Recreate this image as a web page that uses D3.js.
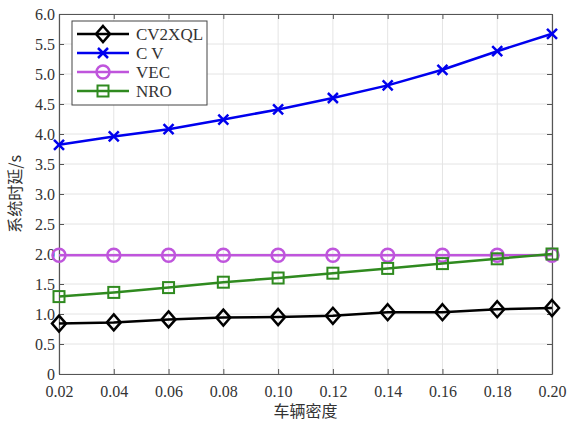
<!DOCTYPE html>
<html>
<head>
<meta charset="utf-8">
<script src="https://cdn.jsdelivr.net/npm/d3@7"></script>
<style>
  body { margin: 0; background: #fff; }
  svg text { font-family: "Liberation Serif", "Times New Roman", serif; fill: #333; }
  svg text.cjk { font-family: "Noto Sans CJK SC", sans-serif; }
</style>
</head>
<body>
<div id="chart"></div>
<script>
// x values (vehicle density)
var density = [0.02, 0.04, 0.06, 0.08, 0.10, 0.12, 0.14, 0.16, 0.18, 0.20];
var cv2xql = [0.84, 0.86, 0.91, 0.94, 0.95, 0.97, 1.03, 1.03, 1.08, 1.10];
var cv     = [3.82, 3.96, 4.08, 4.24, 4.41, 4.60, 4.81, 5.07, 5.38, 5.67];
var vec    = [1.98, 1.98, 1.98, 1.98, 1.98, 1.98, 1.98, 1.98, 1.98, 1.98];
var nro    = [1.29, 1.36, 1.44, 1.53, 1.60, 1.68, 1.76, 1.84, 1.92, 2.00];
var yTicks = [0, 0.5, 1.0, 1.5, 2.0, 2.5, 3.0, 3.5, 4.0, 4.5, 5.0, 5.5, 6.0];

var series = [
  {name: "CV2XQL", values: cv2xql, color: "#000000", marker: "diamond"},
  {name: "C V",    values: cv,     color: "#0000ee", marker: "x"},
  {name: "VEC",    values: vec,    color: "#bf55dc", marker: "circle"},
  {name: "NRO",    values: nro,    color: "#2f8a1f", marker: "square"}
];

var W = 573, H = 423;
var margin = {top: 14, right: 21, bottom: 49, left: 59};
var w = W - margin.left - margin.right,
    h = H - margin.top - margin.bottom;

var svg = d3.select("#chart").append("svg")
  .attr("width", W).attr("height", H);
var g = svg.append("g")
  .attr("transform", "translate(" + margin.left + "," + margin.top + ")");

var x = d3.scaleLinear().domain([0.02, 0.20]).range([0, w]);
var y = d3.scaleLinear().domain([0, 6]).range([h, 0]);

// grid
g.append("g").selectAll("line").data(density).enter().append("line")
  .attr("x1", d => x(d)).attr("x2", d => x(d))
  .attr("y1", 0).attr("y2", h)
  .attr("stroke", "#e4e4e4").attr("stroke-width", 1);
g.append("g").selectAll("line").data(yTicks).enter().append("line")
  .attr("x1", 0).attr("x2", w)
  .attr("y1", d => y(d)).attr("y2", d => y(d))
  .attr("stroke", "#e4e4e4").attr("stroke-width", 1);

// axes (ticks inward)
function fmtY(d) { return d === 0 ? "0" : d3.format(".1f")(d); }
var xAxis = g.append("g").attr("transform", "translate(0," + h + ")")
  .call(d3.axisBottom(x).tickValues(density).tickFormat(d3.format(".2f")).tickSizeInner(-5).tickSizeOuter(0).tickPadding(12));
var yAxis = g.append("g")
  .call(d3.axisLeft(y).tickValues(yTicks).tickFormat(fmtY).tickSizeInner(-5).tickSizeOuter(0).tickPadding(4));
var xTop = g.append("g")
  .call(d3.axisTop(x).tickValues(density).tickFormat("").tickSizeInner(-5).tickSizeOuter(0));
var yRight = g.append("g").attr("transform", "translate(" + w + ",0)")
  .call(d3.axisRight(y).tickValues(yTicks).tickFormat("").tickSizeInner(-5).tickSizeOuter(0));

[xAxis, yAxis, xTop, yRight].forEach(function(a){
  a.attr("font-family", null);
  a.selectAll("path").attr("stroke", "#555").attr("stroke-width", 1.2);
  a.selectAll("line").attr("stroke", "#555");
  a.selectAll("text").attr("font-size", 16).attr("fill", "#444");
});

// axis titles
svg.append("text").attr("class", "cjk")
  .attr("x", margin.left + w / 2).attr("y", 417)
  .attr("text-anchor", "middle").attr("font-size", 16)
  .text("车辆密度");
svg.append("text").attr("class", "cjk")
  .attr("transform", "translate(21," + (margin.top + h / 2) + ") rotate(-90)")
  .attr("text-anchor", "middle").attr("font-size", 16)
  .text("系统时延/s");

function drawMarker(sel, type, color) {
  if (type === "diamond") {
    sel.append("path").attr("d", "M0,-8L7,0L0,8L-7,0Z")
      .attr("fill", "none").attr("stroke", color).attr("stroke-width", 2.5);
  } else if (type === "x") {
    sel.append("path").attr("d", "M-5,-5L5,5M-5,5L5,-5")
      .attr("stroke", color).attr("stroke-width", 2.5);
  } else if (type === "circle") {
    sel.append("circle").attr("r", 6.5)
      .attr("fill", "none").attr("stroke", color).attr("stroke-width", 2.5);
  } else if (type === "square") {
    sel.append("rect").attr("x", -5.5).attr("y", -5.5).attr("width", 11).attr("height", 11)
      .attr("fill", "none").attr("stroke", color).attr("stroke-width", 2);
  }
}

var line = d3.line().x(d => x(d[0])).y(d => y(d[1]));

series.forEach(function(s) {
  var pts = density.map((d, i) => [d, s.values[i]]);
  g.append("path").datum(pts)
    .attr("d", line).attr("fill", "none")
    .attr("stroke", s.color).attr("stroke-width", 2.5);
  g.selectAll(null).data(pts).enter().append("g")
    .attr("transform", d => "translate(" + x(d[0]) + "," + y(d[1]) + ")")
    .each(function() { drawMarker(d3.select(this), s.marker, s.color); });
});

// legend
var lg = svg.append("g").attr("transform", "translate(72,21)");
lg.append("rect").attr("width", 135).attr("height", 84)
  .attr("fill", "#fff").attr("stroke", "#444").attr("stroke-width", 1);
series.forEach(function(s, i) {
  var ry = 13 + i * 19;
  lg.append("line").attr("x1", 5).attr("x2", 57).attr("y1", ry).attr("y2", ry)
    .attr("stroke", s.color).attr("stroke-width", 2.5);
  var m = lg.append("g").attr("transform", "translate(31," + ry + ")");
  drawMarker(m, s.marker, s.color);
  lg.append("text").attr("x", 64).attr("y", ry + 6)
    .attr("font-size", 17).text(s.name);
});
</script>
</body>
</html>
